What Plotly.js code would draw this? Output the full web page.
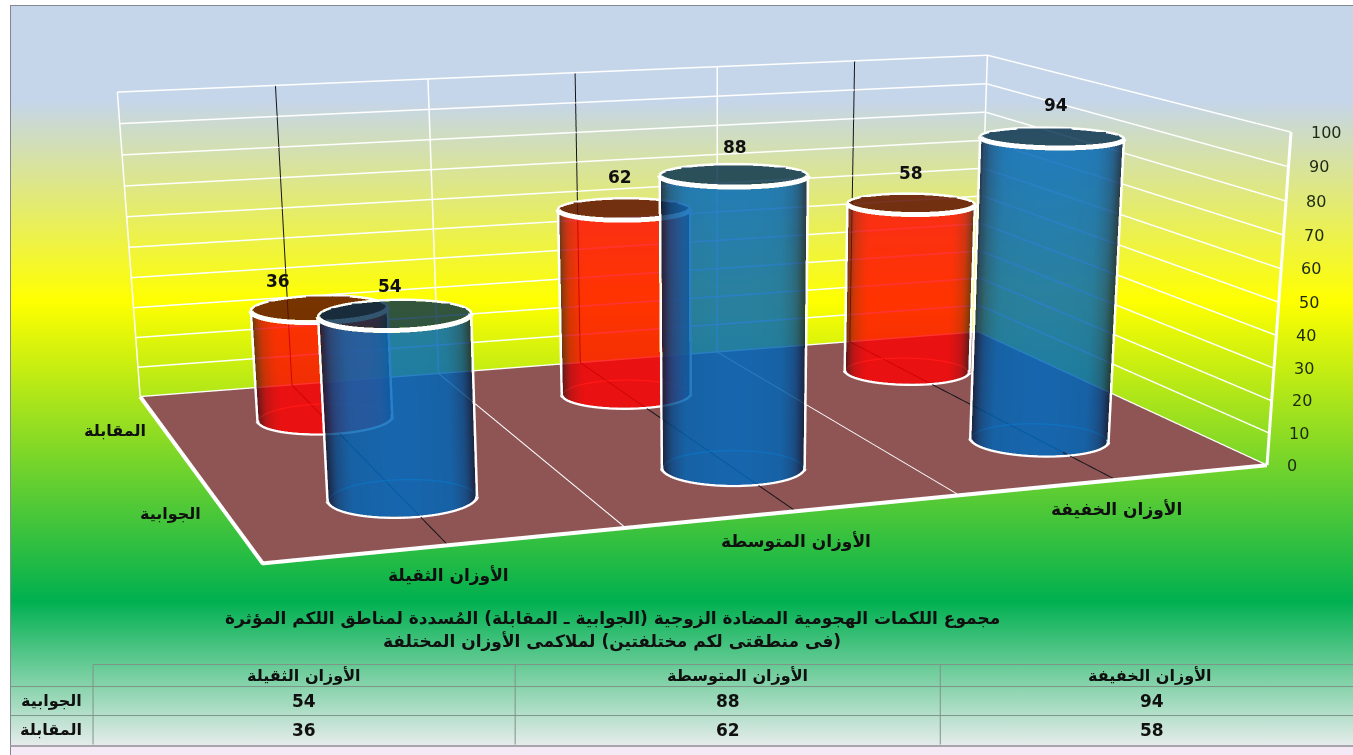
<!DOCTYPE html>
<html lang="ar"><head><meta charset="utf-8">
<script src="https://cdn.plot.ly/plotly-3.0.1.min.js"></script>
<style>
html,body{margin:0;padding:0;width:1353px;height:755px;overflow:hidden;background:#fff}
#panel{position:absolute;left:10px;top:5px;width:1343px;height:741px;overflow:hidden;border-top:1px solid #85888f;border-left:1px solid #85888f;box-sizing:border-box;
 background:linear-gradient(#c5d5ea 95px,#ffff00 295px,#00b050 595px,#e6ecec 740px)}
#foot{position:absolute;left:10px;top:745px;width:1343px;height:10px;box-sizing:border-box;background:#f5e9f6;border-top:2px solid #a9a4ab;border-left:1px solid #85888f}
#clip{position:absolute;left:0;top:0;width:1353px;height:755px;overflow:hidden}
#gd{position:absolute}
</style></head>
<body>
<div id="panel"></div><div id="foot"></div>
<div id="clip"><div id="gd"></div></div>
<script>
// Chart data
const categories = ['الأوزان الثقيلة', 'الأوزان المتوسطة', 'الأوزان الخفيفة'];
const seriesNames = ['الجوابية', 'المقابلة'];
const counterValues = [54, 88, 94];
const leadValues = [36, 62, 58];
const valueTicks = [0, 10, 20, 30, 40, 50, 60, 70, 80, 90, 100];
const titleLines = [
  '\u200fمجموع اللكمات الهجومية المضادة الزوجية (الجوابية ـ المقابلة) المُسددة لمناطق اللكم المؤثرة',
  '\u200f(فى منطقتى لكم مختلفتين) لملاكمى الأوزان المختلفة'
];

// Camera and plot box
const eyePos = {x: -1.8452, y: -5.3382, z: 1.0629};
const lookDir = [0.3204, 0.8783, -0.3549];
const upDir = {x: 0.1209, y: 0.3337, z: 0.9349};
const box = {x: 2, y: 1.35, z: 0.6477};
const principal = [722.78, 770.97];
const focal = 2782.75;
const plotH = focal * 2 * Math.tan(Math.PI / 8);
const plotW = 1449.6;
const plotLeft = principal[0] - plotW / 2;
const plotTop = principal[1] - plotH / 2;
const radius = 0.138;
const rx = radius * 3 / box.x, ry = radius * 2 / box.y;

const gd = document.getElementById('gd');
gd.style.cssText = `left:${plotLeft}px;top:${plotTop}px;width:${plotW}px;height:${plotH}px`;
const paperX = px => (px - plotLeft) / plotW;
const paperY = py => 1 - (py - plotTop) / plotH;

const traces = [];
function addLine(x, y, z, color, width) {
  traces.push({type: 'scatter3d', mode: 'lines', x, y, z, line: {color, width}, hoverinfo: 'skip', showlegend: false});
}
function linspace(a, b, n) { return Array.from({length: n}, (_, i) => a + (b - a) * i / (n - 1)); }

// Frame of the plot box
addLine([0, 0, 3], [2, 0, 0], [0, 0, 0], '#ffffff', 8);
addLine([0, 3], [2, 2], [0, 0], '#ffffff', 3);
addLine([0, 0], [2, 2], [0, 100], '#ffffff', 3);
addLine([3, 3], [2, 2], [0, 100], '#ffffff', 3);
addLine([3, 3], [0, 0], [0, 100], '#ffffff', 6);

// Dark centre lines running under each category
categories.forEach((_, i) => addLine([i + .5, i + .5, i + .5], [0, 2, 2], [0, 0, 100], '#14141a', 2));

function addCylinder(col, row, value, style) {
  const cx = col + .5, cy = row + .5;
  const mx = (cx / 3 - .5) * box.x, my = (cy / 2 - .5) * box.y;
  const phi = Math.atan2(eyePos.y - my, eyePos.x - mx);
  const alpha = Math.acos(radius / Math.hypot(eyePos.y - my, eyePos.x - mx));
  const px = t => cx + rx * Math.cos(t), py = t => cy + ry * Math.sin(t);
  // The white outline sits just outside the wall so the wall never tints it
  const ox = t => cx + 1.018 * rx * Math.cos(t), oy = t => cy + 1.018 * ry * Math.sin(t);
  const front = linspace(phi - alpha, phi + alpha, 73);
  const rear = linspace(phi + alpha, phi - alpha + 2 * Math.PI, 73);
  const circle = linspace(0, 2 * Math.PI, 73);

  addLine(rear.map(px), rear.map(py), rear.map(() => 0), style.rearLine, 3);
  addLine(rear.map(ox), rear.map(oy), rear.map(() => value), '#ffffff', 5);
  addLine(front.map(ox), front.map(oy), front.map(() => 0), '#ffffff', 7);
  addLine(front.map(ox), front.map(oy), front.map(() => value), '#ffffff', 10);
  [front[0], front[72]].forEach(t => addLine([ox(t), ox(t)], [oy(t), oy(t)], [0, value], '#ffffff', 5));

  // Visible half of the wall, shaded towards its silhouette
  traces.push({
    type: 'surface', hoverinfo: 'skip', showscale: false, opacity: style.opacity,
    x: [0, value].map(() => front.map(px)),
    y: [0, value].map(() => front.map(py)),
    z: [0, value].map(v => front.map(() => v)),
    surfacecolor: [0, 1].map(() => front.map(t => Math.cos((t - phi) / alpha * Math.PI / 2))),
    cmin: 0, cmax: 1, colorscale: style.wall,
    lighting: {ambient: 1, diffuse: 0, specular: 0, roughness: 1, fresnel: 0}
  });
  // Open top
  traces.push({
    type: 'surface', hoverinfo: 'skip', showscale: false, opacity: style.capOpacity,
    x: [0, 1].map(k => circle.map(t => cx + k * rx * Math.cos(t))),
    y: [0, 1].map(k => circle.map(t => cy + k * ry * Math.sin(t))),
    z: [0, 1].map(() => circle.map(() => value)),
    surfacecolor: [0, 1].map(() => circle.map(() => 0.5)),
    cmin: 0, cmax: 1, colorscale: [[0, style.cap], [1, style.cap]],
    lighting: {ambient: 1, diffuse: 0, specular: 0, roughness: 1, fresnel: 0}
  });
}

const redStyle = {
  opacity: .8, capOpacity: .85, cap: 'rgb(95,15,0)', rearLine: '#ff7a70',
  wall: [[0, 'rgb(55,5,10)'], [.3, 'rgb(130,10,10)'], [.5, 'rgb(205,5,5)'], [.75, 'rgb(255,0,0)'], [1, 'rgb(255,0,0)']]
};
const blueStyle = {
  opacity: .84, capOpacity: .8, cap: 'rgb(0,42,75)', rearLine: '#5fa6d8',
  wall: [[0, 'rgb(5,20,45)'], [.3, 'rgb(5,45,90)'], [.5, 'rgb(5,75,140)'], [.75, 'rgb(0,100,180)'], [1, 'rgb(0,104,188)']]
};
// Rear row first so the front row blends over it
leadValues.forEach((v, i) => addCylinder(i, 1, v, redStyle));
counterValues.forEach((v, i) => addCylinder(i, 0, v, blueStyle));

// Text anchored in the scene
const sceneText = [];
const fam = 'DejaVu Sans, sans-serif';
const inkFont = size => ({family: fam, size, color: '#101010'});
valueTicks.forEach(v => sceneText.push({
  x: 3, y: 0, z: v, text: String(v), showarrow: false, xanchor: 'left', xshift: 18,
  font: {family: fam, size: 16, color: '#1c2a10'}
}));
const valueLabels = [];
leadValues.forEach((v, i) => valueLabels.push({x: i + .5, y: 1.5, v}));
counterValues.forEach((v, i) => valueLabels.push({x: i + .5, y: .5, v}));
const labelDx = [-41, -4, 0, -5, 1, 4], labelDy = [28, 32, 31, 29, 28, 33];
valueLabels.forEach((l, i) => sceneText.push({
  x: l.x, y: l.y, z: l.v, text: '<b>' + l.v + '</b>', showarrow: false,
  xshift: labelDx[i], yshift: labelDy[i], font: inkFont(17)
}));
categories.forEach((c, i) => sceneText.push({
  x: i + .5, y: 0, z: 0, text: '<b>' + c + '</b>', showarrow: false, xshift: 0, yshift: -30, font: inkFont(17)
}));
sceneText.push({x: 0, y: 1.5, z: 0, text: '<b>' + seriesNames[1] + '</b>', showarrow: false, xshift: -51, yshift: 1, font: inkFont(16)});
sceneText.push({x: 0, y: .5, z: 0, text: '<b>' + seriesNames[0] + '</b>', showarrow: false, xshift: -56, yshift: 1, font: inkFont(16)});

// Data table below the plot, ruled with paper-anchored lines
const rule = '#7d9488';
const hLine = (y, x0) => ({type: 'line', xref: 'paper', yref: 'paper', x0: paperX(x0), x1: paperX(1353), y0: paperY(y), y1: paperY(y), line: {color: rule, width: 1}});
const vLine = x => ({type: 'line', xref: 'paper', yref: 'paper', x0: paperX(x), x1: paperX(x), y0: paperY(665), y1: paperY(745), line: {color: rule, width: 1}});
const tableColumns = [304, 728, 1152];
const tableRows = [701, 730];
const headerCentres = [304, 737, 1150];
const note = (x, y, text, size) => ({xref: 'paper', yref: 'paper', x: paperX(x), y: paperY(y), xanchor: 'center', yanchor: 'middle', text, showarrow: false, font: inkFont(size)});
const tableText = [];
categories.forEach((c, i) => {
  tableText.push(note(headerCentres[i], 676, '<b>' + c + '</b>', 16));
  tableText.push(note(tableColumns[i], tableRows[0], '<b>' + counterValues[i] + '</b>', 17));
  tableText.push(note(tableColumns[i], tableRows[1], '<b>' + leadValues[i] + '</b>', 17));
});
seriesNames.forEach((s, i) => tableText.push(note(51, tableRows[i], '<b>' + s + '</b>', 16)));

const axisBase = {showticklabels: false, title: {text: ''}, showspikes: false, zeroline: false, showline: false, ticks: ''};
const layout = {
  width: plotW, height: plotH, margin: {l: 0, r: 0, t: 0, b: 0},
  paper_bgcolor: 'rgba(0,0,0,0)', showlegend: false, hovermode: false,
  shapes: [hLine(665, 93), hLine(687, 10), hLine(716, 10), vLine(93), vLine(515), vLine(940)],
  annotations: [...titleLines.map((t, i) => note(612, 619 + i * 23, '<b>' + t + '</b>', 17)), ...tableText],
  scene: {
    domain: {x: [0, 1], y: [0, 1]}, aspectmode: 'manual', aspectratio: box,
    camera: {
      eye: eyePos,
      center: {x: eyePos.x + lookDir[0] * 5, y: eyePos.y + lookDir[1] * 5, z: eyePos.z + lookDir[2] * 5},
      up: upDir
    },
    annotations: sceneText,
    xaxis: {...axisBase, range: [0, 3], tickvals: [1, 2], gridcolor: '#ffffff', gridwidth: 3, showbackground: false},
    yaxis: {...axisBase, range: [0, 2], showgrid: false, showbackground: false},
    zaxis: {...axisBase, range: [0, 100], tickvals: valueTicks, gridcolor: '#ffffff', gridwidth: 3, showbackground: true, backgroundcolor: '#8f5555'}
  }
};
Plotly.newPlot(gd, traces, layout, {displayModeBar: false});
</script></body></html>
